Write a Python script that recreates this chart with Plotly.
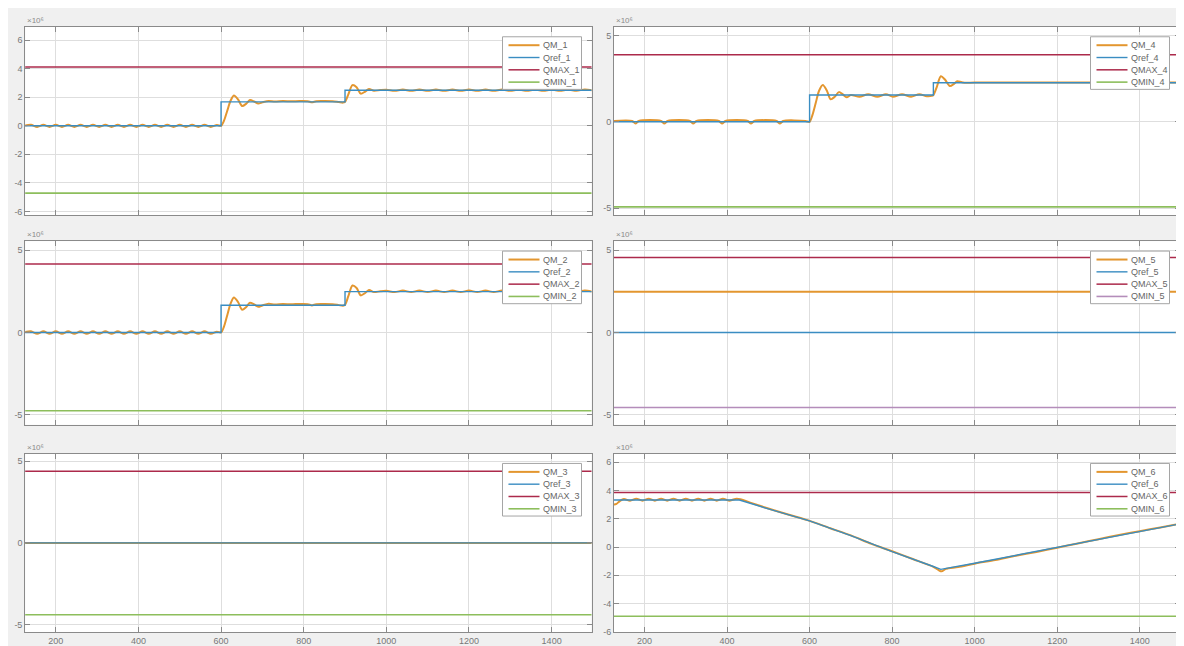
import plotly.graph_objects as go

# ---------------- data (values in units of 1e6) ----------------
t_lim = [125, 1500]

# Panel 1 (QM_1 / Qref_1 / QMAX_1 / QMIN_1)
t_qm1 = [125, 140, 155, 170, 185, 200, 215, 230, 245, 260, 275, 290, 305, 320, 335, 350,
         365, 380, 395, 410, 425, 440, 455, 470, 485, 500, 515, 530, 545, 560, 575, 590, 600,
         607, 615, 623, 631, 641, 651, 661, 670, 680, 690, 700, 715, 730,
         750, 770, 790, 810, 820, 830, 850, 870, 885, 895, 900,
         908, 918, 928, 938, 948, 958, 970, 985, 1000,
         1020, 1040, 1060, 1080, 1100, 1120, 1140, 1160, 1180, 1200, 1220, 1240, 1260,
         1280, 1300, 1320, 1340, 1360, 1380, 1400, 1420, 1440, 1460, 1480, 1500]
qm1 = [0.02, 0.07, -0.08, 0.07, -0.08, 0.07, -0.08, 0.07, -0.08, 0.07, -0.08, 0.07, -0.08, 0.07, -0.08, 0.07,
       -0.08, 0.07, -0.08, 0.07, -0.08, 0.07, -0.08, 0.07, -0.08, 0.07, -0.08, 0.07, -0.08, 0.07, -0.08, 0.05, 0.0,
       0.35, 1.05, 1.75, 2.12, 1.85, 1.38, 1.55, 1.80, 1.70, 1.56, 1.64, 1.74, 1.70,
       1.73, 1.71, 1.73, 1.72, 1.64, 1.72, 1.73, 1.72, 1.66, 1.62, 1.68,
       2.20, 2.85, 2.70, 2.25, 2.38, 2.58, 2.45, 2.50, 2.53,
       2.45, 2.54, 2.45, 2.54, 2.45, 2.54, 2.45, 2.54, 2.45, 2.54, 2.45, 2.54, 2.45,
       2.54, 2.45, 2.54, 2.45, 2.54, 2.45, 2.54, 2.45, 2.54, 2.45, 2.54, 2.48]
t_ref1 = [125, 600, 600, 900, 900, 1500]
qref1 = [0.0, 0.0, 1.67, 1.67, 2.49, 2.49]
qmax1 = [4.11, 4.11]
qmin1 = [-4.72, -4.72]

# Panel 2 (same behaviour as panel 1)
t_qm2 = t_qm1
qm2 = qm1
t_ref2 = [125, 600, 600, 900, 900, 1500]
qref2 = [0.0, 0.0, 1.65, 1.65, 2.48, 2.48]
qmax2 = [4.15, 4.15]
qmin2 = [-4.75, -4.75]

# Panel 3
qm3 = [0.0, 0.0]
qref3 = [0.0, 0.0]
qmax3 = [4.38, 4.38]
qmin3 = [-4.40, -4.40]

# Panel 4
t_qm4 = [125, 170, 178, 186, 240, 248, 256, 310, 318, 326, 380, 388, 396, 450, 458, 466,
         520, 528, 536, 590, 600, 607, 615, 623, 632, 642, 651, 661, 671, 680, 690,
         700, 721, 742, 764, 785, 802, 824, 846, 866, 884, 896, 900,
         908, 918, 928, 940, 950, 958, 968, 980, 1000, 1500]
qm4 = [0.05, 0.05, -0.10, 0.05, 0.05, -0.10, 0.05, 0.05, -0.10, 0.05, 0.05, -0.10, 0.05, 0.05, -0.10, 0.05,
       0.05, -0.10, 0.05, 0.05, 0.0, 0.40, 1.10, 1.80, 2.13, 1.80, 1.30, 1.45, 1.72, 1.60, 1.42,
       1.55, 1.45, 1.60, 1.45, 1.60, 1.45, 1.60, 1.45, 1.60, 1.48, 1.50, 1.55,
       2.00, 2.64, 2.45, 2.07, 2.20, 2.35, 2.30, 2.26, 2.28, 2.28]
t_ref4 = [125, 600, 600, 900, 900, 1500]
qref4 = [0.0, 0.0, 1.55, 1.55, 2.26, 2.26]
qmax4 = [3.89, 3.89]
qmin4 = [-4.93, -4.93]

# Panel 5
qm5 = [2.47, 2.47]
qref5 = [0.0, 0.0]
qmax5 = [4.55, 4.55]
qmin5 = [-4.55, -4.55]

# Panel 6
t_qm6 = [125, 132, 140, 150, 165, 180, 195, 210, 225, 240, 255, 270, 285, 300, 315, 330,
         345, 360, 375, 390, 405, 420, 432, 460, 500, 550, 600, 650, 700, 750, 800, 850,
         900, 912, 920, 930, 960, 1000, 1050, 1100, 1150, 1200, 1250, 1300, 1350, 1400, 1450, 1500]
qm6 = [3.00, 3.05, 3.25, 3.40, 3.27, 3.42, 3.27, 3.42, 3.27, 3.42, 3.27, 3.42, 3.27, 3.42, 3.27, 3.42,
       3.27, 3.42, 3.27, 3.42, 3.27, 3.40, 3.38, 3.10, 2.72, 2.28, 1.85, 1.33, 0.82, 0.22, -0.30, -0.85,
       -1.40, -1.62, -1.72, -1.55, -1.42, -1.18, -0.92, -0.62, -0.35, -0.05, 0.25, 0.55, 0.85, 1.12, 1.38, 1.65]
t_ref6 = [125, 430, 500, 600, 700, 800, 900, 918, 1000, 1100, 1200, 1300, 1400, 1500]
qref6 = [3.32, 3.32, 2.70, 1.85, 0.80, -0.33, -1.38, -1.58, -1.15, -0.60, -0.05, 0.52, 1.10, 1.65]
qmax6 = [3.85, 3.85]
qmin6 = [-4.90, -4.90]

x_ticks = [200, 400, 600, 800, 1000, 1200, 1400]

# ---------------- styling ----------------
C_QM = '#E3962F'
C_REF = '#3A8DC2'
C_MAX = '#AC2A4B'
C_MIN = '#8DBE5C'
C_MIN5 = '#B48DBA'
GRID = '#dedede'
AXL = '#8a8a8a'
TXT = '#777777'
FONT = 'Liberation Sans, Arial, sans-serif'

W_PX, H_PX = 1184, 646
X_RANGE = [126, 1496.5]
col_px = {1: (17.2, 583.5), 2: (606.0, 1171.5)}
row_px = {1: (19, 209), 2: (235, 420), 3: (449, 629)}

W_QM, W_REF, W_MAX, W_MIN = 2.0, 1.4, 1.5, 1.6

panels = [
    dict(ax=1, row=1, col=1, n='1', qm=(t_qm1, qm1), ref=(t_ref1, qref1), mx=qmax1, mn=qmin1,
         yr=[-6.28, 6.93], yt=[-6, -4, -2, 0, 2, 4, 6], cmin=C_MIN),
    dict(ax=2, row=1, col=2, n='4', qm=(t_qm4, qm4), ref=(t_ref4, qref4), mx=qmax4, mn=qmin4,
         yr=[-5.42, 5.5], yt=[-5, 0, 5], cmin=C_MIN),
    dict(ax=3, row=2, col=1, n='2', qm=(t_qm2, qm2), ref=(t_ref2, qref2), mx=qmax2, mn=qmin2,
         yr=[-5.6, 5.54], yt=[-5, 0, 5], cmin=C_MIN),
    dict(ax=4, row=2, col=2, n='5', qm=(t_lim, qm5), ref=(t_lim, qref5), mx=qmax5, mn=qmin5,
         yr=[-5.6, 5.54], yt=[-5, 0, 5], cmin=C_MIN5),
    dict(ax=5, row=3, col=1, n='3', qm=(t_lim, qm3), ref=(t_lim, qref3), mx=qmax3, mn=qmin3,
         yr=[-5.46, 5.47], yt=[-5, 0, 5], cmin=C_MIN),
    dict(ax=6, row=3, col=2, n='6', qm=(t_qm6, qm6), ref=(t_ref6, qref6), mx=qmax6, mn=qmin6,
         yr=[-6.02, 6.61], yt=[-6, -4, -2, 0, 2, 4, 6], cmin=C_MIN),
]

fig = go.Figure()
layout_axes = {}

for p in panels:
    a = p['ax']
    xa = 'x' if a == 1 else f'x{a}'
    ya = 'y' if a == 1 else f'y{a}'
    qm_t, qm_y = p['qm']
    rf_t, rf_y = p['ref']
    fig.add_trace(go.Scatter(x=qm_t, y=qm_y, mode='lines', name='QM_' + p['n'],
                             line=dict(color=C_QM, width=W_QM, shape='spline', smoothing=0.8),
                             xaxis=xa, yaxis=ya, hoverinfo='skip'))
    fig.add_trace(go.Scatter(x=rf_t, y=rf_y, mode='lines', name='Qref_' + p['n'],
                             line=dict(color=C_REF, width=W_REF), xaxis=xa, yaxis=ya, hoverinfo='skip'))
    fig.add_trace(go.Scatter(x=t_lim, y=p['mx'], mode='lines', name='QMAX_' + p['n'],
                             line=dict(color=C_MAX, width=W_MAX), xaxis=xa, yaxis=ya, hoverinfo='skip'))
    fig.add_trace(go.Scatter(x=t_lim, y=p['mn'], mode='lines', name='QMIN_' + p['n'],
                             line=dict(color=p['cmin'], width=W_MIN), xaxis=xa, yaxis=ya, hoverinfo='skip'))

    cx0, cx1 = col_px[p['col']]
    ry0, ry1 = row_px[p['row']]
    xdom = [cx0 / W_PX, cx1 / W_PX]
    ydom = [(H_PX - ry1) / H_PX, (H_PX - ry0) / H_PX]
    common = dict(showgrid=True, gridcolor=GRID, gridwidth=1, showline=True, linecolor=AXL,
                  linewidth=1, mirror='ticks', ticks='inside', ticklen=5, tickcolor=AXL,
                  zeroline=False, tickfont=dict(family=FONT, size=9, color=TXT), fixedrange=True)
    layout_axes['xaxis' if a == 1 else f'xaxis{a}'] = dict(
        domain=xdom, anchor=ya, range=X_RANGE, tickvals=x_ticks,
        ticktext=[str(v) for v in x_ticks], showticklabels=(p['row'] == 3), **common)
    layout_axes['yaxis' if a == 1 else f'yaxis{a}'] = dict(
        domain=ydom, anchor=xa, range=p['yr'], tickvals=p['yt'],
        ticktext=[str(v) for v in p['yt']], **common)

fig.update_layout(**layout_axes)

# ---------------- legends & exponent labels (drawn per subplot) ----------------
shapes = []
annotations = []
for p in panels:
    a = p['ax']
    xr = 'x domain' if a == 1 else f'x{a} domain'
    yr = 'y domain' if a == 1 else f'y{a} domain'
    cx0, cx1 = col_px[p['col']]
    ry0, ry1 = row_px[p['row']]
    W = cx1 - cx0
    H = ry1 - ry0
    bw, bh = 79, 53
    right = W - 10
    left = right - bw
    top = 10
    bottom = top + bh
    shapes.append(dict(type='rect', xref=xr, yref=yr, x0=left / W, x1=right / W,
                       y0=1 - bottom / H, y1=1 - top / H, line=dict(color='#a5a5a5', width=1),
                       fillcolor='white', layer='above'))
    names = ['QM_' + p['n'], 'Qref_' + p['n'], 'QMAX_' + p['n'], 'QMIN_' + p['n']]
    cols = [C_QM, C_REF, C_MAX, p['cmin']]
    wids = [W_QM, W_REF, W_MAX, W_MIN]
    for i in range(4):
        yc = top + 8.5 + 12.4 * i
        shapes.append(dict(type='line', xref=xr, yref=yr, x0=(left + 6) / W, x1=(left + 37) / W,
                           y0=1 - yc / H, y1=1 - yc / H, line=dict(color=cols[i], width=wids[i]),
                           layer='above'))
        annotations.append(dict(xref=xr, yref=yr, x=(left + 39) / W, y=1 - yc / H,
                                xanchor='left', yanchor='middle', text=names[i], showarrow=False,
                                font=dict(family=FONT, size=9, color='#666666'), borderpad=0))
    annotations.append(dict(xref=xr, yref=yr, x=0, y=1, xanchor='left', yanchor='bottom',
                            text='\u00d710\u2076', showarrow=False, yshift=0,
                            font=dict(family=FONT, size=8, color='#8a8a8a'), borderpad=1))

# small toolbar icon top-right
shapes.append(dict(type='rect', xref='paper', yref='paper', x0=1173 / W_PX, x1=1182 / W_PX,
                   y0=1 - 13 / H_PX, y1=1 - 5 / H_PX, line=dict(color='#555555', width=1),
                   fillcolor='#e8e8e8'))
shapes.append(dict(type='path', xref='paper', yref='paper',
                   path=f'M {1175/W_PX},{1-11/H_PX} L {1180/W_PX},{1-11/H_PX} L {1177.5/W_PX},{1-7/H_PX} Z',
                   line=dict(color='#444444', width=0.5), fillcolor='#444444'))

fig.update_layout(shapes=shapes, annotations=annotations)

fig.update_layout(width=W_PX, height=H_PX, autosize=False,
                  margin=dict(l=0, r=0, t=0, b=0),
                  paper_bgcolor='#f0f0f0', plot_bgcolor='white',
                  showlegend=False, font=dict(family=FONT, color=TXT))

fig.write_html('out.html', config={'displayModeBar': False})
